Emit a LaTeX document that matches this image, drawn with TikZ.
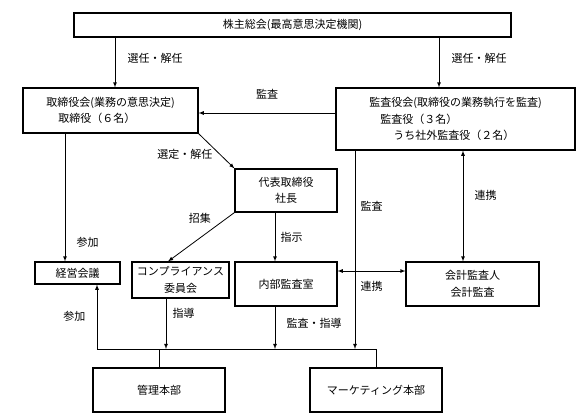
\documentclass[tikz,border=0pt]{standalone}
\usepackage{fontspec}
\setmainfont{Noto Sans CJK JP}
\usepackage{tikz}

\begin{document}
\begin{tikzpicture}[x=1pt, y=-1pt, >=latex,
  every node/.style={font=\fontsize{11}{16.5}\selectfont},
  box/.style={draw, line width=1.1pt, inner sep=0pt},
  line/.style={line width=0.8pt}]
\useasboundingbox (0,0) rectangle (577,413);

\node[box, minimum width=437pt, minimum height=24pt] (soukai) at (292.5,25) {株主総会(最高意思決定機関)};
\node[box, align=left, minimum width=175pt, minimum height=45pt] (board) at (110.5,110.5) {取締役会(業務の意思決定)\\\hspace*{1.1em}取締役（６名）};
\node[box, align=left, minimum width=239pt, minimum height=62pt] (kansa) at (455.5,119) {監査役会(取締役の業務執行を監査)\\\hspace*{1em}監査役（３名）\\\hspace*{2.2em}うち社外監査役（２名）};
\node[box, align=center, minimum width=102pt, minimum height=43pt] (daihyo) at (286,190.5) {代表取締役\\社長};
\node[box, minimum width=85pt, minimum height=22pt] (keiei) at (77.5,273) {経営会議};
\node[box, align=center, minimum width=97pt, minimum height=36pt] (comp) at (180.5,280) {コンプライアンス\\委員会};
\node[box, minimum width=102pt, minimum height=44pt] (naibu) at (286,284) {内部監査室};
\node[box, align=center, minimum width=133pt, minimum height=44pt] (kaikei) at (472.5,284) {会計監査人\\会計監査};
\node[box, minimum width=132pt, minimum height=44pt] (kanri) at (159,390) {管理本部};
\node[box, minimum width=132pt, minimum height=44pt] (mkt) at (376,390) {マーケティング本部};

\coordinate (busL) at (97,349);
\coordinate (busE) at (376,349);

% 株主総会から
\draw[line,->] (soukai.south -| 115,0) -- node[pos=0.42,right=9pt] {選任・解任} (board.north -| 115,0);
\draw[line,->] (soukai.south -| 439,0) -- node[pos=0.42,right=9pt] {選任・解任} (kansa.north -| 439,0);

% 監査役会
\draw[line,->] (kansa.west |- 0,113) -- node[above=10pt] {監査} (board.east |- 0,113);
\draw[line,->] (kansa.south -| 355,0) -- node[pos=0.28,right=2pt] {監査} (busL -| 355,0);
\draw[line,<->] (kansa.south -| 463,0) -- node[pos=0.4,right=8pt] {連携} (kaikei.north -| 463,0);
\draw[line,<->] (naibu.east |- 0,271) -- node[below=7pt] {連携} (kaikei.west |- 0,271);

% 取締役会・代表取締役
\draw[line,->] (board.south east) -- node[pos=0.6,left,xshift=-4pt] {選定・解任} (daihyo.north west);
\draw[line,->] (board.south -| 65,0) -- node[pos=0.85,right=8pt] {参加} (keiei.north -| 65,0);
\draw[line,->] (daihyo.south west) -- node[pos=0.3,above left] {招集} (comp.north -| 168,0);
\draw[line,->] (daihyo.south -| 275,0) -- node[right=2pt] {指示} (naibu.north -| 275,0);

% 本部へ
\draw[line,->] (busL) -- node[left=8pt] {参加} (keiei.south -| busL);
\draw[line,->] (comp.south -| 166,0) -- node[pos=0.3,right=3pt] {指導} (busL -| 166,0);
\draw[line,->] (naibu.south -| 275,0) -- node[pos=0.4,right=8pt] {監査・指導} (busL -| 275,0);
\draw[line] (busL) -- (busE) -- (mkt.north);
\draw[line] (kanri.north) -- (kanri.north |- busL);
\end{tikzpicture}
\end{document}
